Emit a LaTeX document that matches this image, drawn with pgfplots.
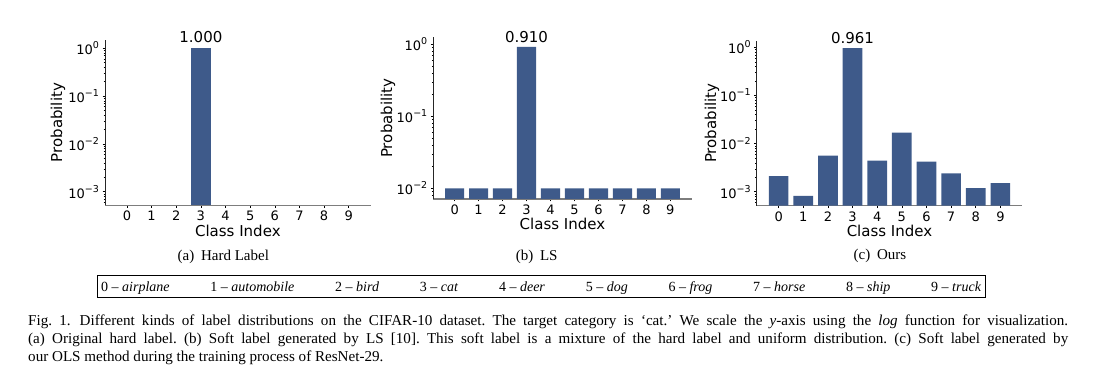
\documentclass[border=0pt]{standalone}
\usepackage{pgfplots}
\pgfplotsset{compat=1.18}
\usepackage{fontspec}
\setmainfont{Liberation Serif}
\newfontfamily\djv{DejaVu Sans}
\definecolor{barblue}{RGB}{62,90,138}
\definecolor{spinegray}{RGB}{125,125,125}
\newcommand\tp[1]{10\raisebox{0.45em}{\fontsize{9.5}{9.5}\selectfont #1}}
\newcommand\tf{\djv\fontsize{13}{13}\selectfont}
\newcommand\lf{\djv\fontsize{15}{15}\selectfont}
\newcommand\cf{\fontsize{15.1}{15.1}\selectfont\frenchspacing}
\begin{document}
\begin{tikzpicture}
\path[use as bounding box] (0pt,0pt) rectangle (1094pt,377pt);
% (a)
\begin{axis}[at={(105pt,171.7pt)}, anchor=south west,
  scale only axis, width=265.7pt, height=165.3pt,
  ymode=log, log origin y=infty,
  xmin=-0.89, xmax=9.89, ymin=5.19e-4, ymax=1.49,
  axis x line*=bottom, axis y line*=left,
  x axis line style={spinegray, line width=1.3pt},
  y axis line style={black!85, line width=0.8pt},
  xtick={0,1,2,3,4,5,6,7,8,9}, xticklabels={0,1,2,3,4,5,6,7,8,9},
  ytick={1e-3,1e-2,1e-1,1},
  yticklabels={\tp{−3},\tp{−2},\tp{−1},\tp{0}},
  minor ytick={6e-4,7e-4,8e-4,9e-4,2e-3,3e-3,4e-3,5e-3,6e-3,7e-3,8e-3,9e-3,2e-2,3e-2,4e-2,5e-2,6e-2,7e-2,8e-2,9e-2,0.2,0.3,0.4,0.5,0.6,0.7,0.8,0.9},
  tick align=outside, major tick length=2.5pt, minor tick length=1.5pt,
  tick style={black, line width=0.6pt},
  minor tick style={black, line width=0.4pt},
  tick label style={font=\tf},
  xlabel={Class Index}, ylabel={Probability},
  xlabel style={font=\lf, at={(axis description cs:0.5,-0.1543)}, anchor=center},
  ylabel style={font=\lf, at={(axis description cs:-0.1769,0.5)}, anchor=center},
  clip=false,
]
\addplot[ybar, bar width=0.8, fill=barblue, draw=none] coordinates {(3,1.0)};
\node[font=\lf, anchor=base, yshift=5.6pt] at (axis cs:3,1.0) {1.000};
\end{axis}
% (b)
\begin{axis}[at={(433.3pt,178pt)}, anchor=south west,
  scale only axis, width=258.4pt, height=161.7pt,
  ymode=log, log origin y=infty,
  xmin=-0.89, xmax=9.89, ymin=0.00711, ymax=1.24,
  axis x line*=bottom, axis y line*=left,
  x axis line style={spinegray, line width=1.3pt},
  y axis line style={black!85, line width=0.8pt},
  xtick={0,1,2,3,4,5,6,7,8,9}, xticklabels={0,1,2,3,4,5,6,7,8,9},
  ytick={1e-2,1e-1,1},
  yticklabels={\tp{−2},\tp{−1},\tp{0}},
  minor ytick={8e-3,9e-3,2e-2,3e-2,4e-2,5e-2,6e-2,7e-2,8e-2,9e-2,0.2,0.3,0.4,0.5,0.6,0.7,0.8,0.9},
  tick align=outside, major tick length=2.5pt, minor tick length=1.5pt,
  tick style={black, line width=0.6pt},
  minor tick style={black, line width=0.4pt},
  tick label style={font=\tf},
  xlabel={Class Index}, ylabel={Probability},
  xlabel style={font=\lf, at={(axis description cs:0.5,-0.153)}, anchor=center},
  ylabel style={font=\lf, at={(axis description cs:-0.1753,0.5)}, anchor=center},
  clip=false,
]
\addplot[ybar, bar width=0.8, fill=barblue, draw=none] coordinates {(0,0.01) (1,0.01) (2,0.01) (3,0.91) (4,0.01) (5,0.01) (6,0.01) (7,0.01) (8,0.01) (9,0.01)};
\node[font=\lf, anchor=base, yshift=4.3pt] at (axis cs:3,0.91) {0.910};
\end{axis}
% (c)
\begin{axis}[at={(756.7pt,171.3pt)}, anchor=south west,
  scale only axis, width=265.6pt, height=165pt,
  ymode=log, log origin y=infty,
  xmin=-0.89, xmax=9.89, ymin=5.12e-4, ymax=1.37,
  axis x line*=bottom, axis y line*=left,
  x axis line style={spinegray, line width=1.3pt},
  y axis line style={black!85, line width=0.8pt},
  xtick={0,1,2,3,4,5,6,7,8,9}, xticklabels={0,1,2,3,4,5,6,7,8,9},
  ytick={1e-3,1e-2,1e-1,1},
  yticklabels={\tp{−3},\tp{−2},\tp{−1},\tp{0}},
  minor ytick={6e-4,7e-4,8e-4,9e-4,2e-3,3e-3,4e-3,5e-3,6e-3,7e-3,8e-3,9e-3,2e-2,3e-2,4e-2,5e-2,6e-2,7e-2,8e-2,9e-2,0.2,0.3,0.4,0.5,0.6,0.7,0.8,0.9},
  tick align=outside, major tick length=2.5pt, minor tick length=1.5pt,
  tick style={black, line width=0.6pt},
  minor tick style={black, line width=0.4pt},
  tick label style={font=\tf},
  xlabel={Class Index}, ylabel={Probability},
  xlabel style={font=\lf, at={(axis description cs:0.5,-0.155)}, anchor=center},
  ylabel style={font=\lf, at={(axis description cs:-0.168,0.5)}, anchor=center},
  clip=false,
]
\addplot[ybar, bar width=0.8, fill=barblue, draw=none] coordinates {(0,0.0021) (1,0.00082) (2,0.0056) (3,0.961) (4,0.0044) (5,0.0168) (6,0.0042) (7,0.0024) (8,0.00119) (9,0.0015)};
\node[font=\lf, anchor=base, yshift=4.6pt] at (axis cs:3,0.961) {0.961};
\end{axis}
% subcaptions
\begin{scope}[every node/.style={font=\fontsize{15}{15}\selectfont, anchor=base, inner sep=0pt}]
\node at (223.3pt,116.3pt) {(a)\hspace{0.45em}Hard Label};
\node at (536.7pt,116.3pt) {(b)\hspace{0.45em}LS};
\node at (880pt,117pt) {(c)\hspace{0.45em}Ours};
\end{scope}
% legend box
\draw[black, line width=0.8pt] (97pt,102pt) rectangle (985pt,80pt);
\node[font=\fontsize{14}{14}\selectfont, anchor=base west, inner sep=0pt] at (101pt,85.7pt)
  {\makebox[880pt][s]{0 – \textit{airplane}\hfill 1 – \textit{automobile}\hfill 2 – \textit{bird}\hfill 3 – \textit{cat}\hfill 4 – \textit{deer}\hfill 5 – \textit{dog}\hfill 6 – \textit{frog}\hfill 7 – \textit{horse}\hfill 8 – \textit{ship}\hfill 9 – \textit{truck}}};
% caption
\begin{scope}[every node/.style={font=\cf, anchor=base west, inner sep=0pt}]
\node at (28pt,51pt) {\makebox[1040pt][s]{Fig.~1.\hspace{0.6em}Different kinds of label distributions on the CIFAR-10 dataset. The target category is ‘cat.’ We scale the \textit{y}-axis using the \textit{log} function for visualization.}};
\node at (28pt,33pt) {\makebox[1040pt][s]{(a) Original hard label. (b) Soft label generated by LS [10]. This soft label is a mixture of the hard label and uniform distribution. (c) Soft label generated by}};
\node at (28pt,15.5pt) {our OLS method during the training process of ResNet-29.};
\end{scope}
\end{tikzpicture}
\end{document}
